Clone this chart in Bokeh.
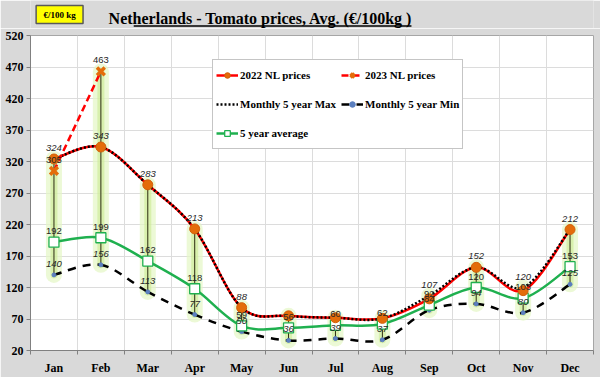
import numpy as np
from bokeh.plotting import figure
from bokeh.layouts import column
from bokeh.models import Range1d, FixedTicker, Legend, LegendItem
from bokeh.core.properties import value
from bokeh.embed import file_html
from bokeh.resources import INLINE

# ---------------- data ----------------
months = ["Jan", "Feb", "Mar", "Apr", "May", "Jun", "Jul", "Aug", "Sep", "Oct", "Nov", "Dec"]
prices_2022 = [324, 343, 283, 213, 88, 75, 72, 71, 102, 152, 115, 212]
prices_2023 = [305, 463]
max_5yr = [324, 343, 283, 213, 88, 75, 72, 71, 107, 152, 120, 212]
min_5yr = [140, 156, 113, 77, 50, 36, 39, 37, 84, 94, 80, 125]
avg_5yr = [192, 199, 162, 118, 59, 56, 60, 62, 92, 120, 103, 153]
max_label_shown = [True, True, True, True, True, False, False, False, True, True, True, True]
y_ticks = [20, 70, 120, 170, 220, 270, 320, 370, 420, 470, 520]
title_text = "Netherlands  -  Tomato  prices, Avg.    (€/100kg )"
unit_text = "€/100 kg"

x = list(range(len(months)))
x23 = x[:len(prices_2023)]

hi = []
for i in x:
    vals = [max_5yr[i], prices_2022[i], avg_5yr[i], min_5yr[i]]
    if i < len(prices_2023):
        vals.append(prices_2023[i])
    hi.append(max(vals))
lo = [min(min_5yr[i], avg_5yr[i], prices_2022[i]) for i in x]


def bez(xs, ys):
    n = len(xs)
    d = dict(x0=[], y0=[], x1=[], y1=[], cx0=[], cy0=[], cx1=[], cy1=[])
    for i in range(n - 1):
        xm, ym = (xs[i - 1], ys[i - 1]) if i > 0 else (xs[i], ys[i])
        xp, yp = (xs[i + 2], ys[i + 2]) if i + 2 < n else (xs[i + 1], ys[i + 1])
        d["x0"].append(xs[i]); d["y0"].append(ys[i])
        d["x1"].append(xs[i + 1]); d["y1"].append(ys[i + 1])
        d["cx0"].append(xs[i] + (xs[i + 1] - xm) / 6.0)
        d["cy0"].append(ys[i] + (ys[i + 1] - ym) / 6.0)
        d["cx1"].append(xs[i + 1] - (xp - xs[i]) / 6.0)
        d["cy1"].append(ys[i + 1] - (yp - ys[i]) / 6.0)
    return d


BG = "#d9d9d9"

# ---------------- header ----------------
hdr = figure(width=600, height=28, output_backend="svg", toolbar_location=None,
             x_range=Range1d(0, 600), y_range=Range1d(28, 0),
             x_axis_location=None, y_axis_location=None,
             min_border=0, min_border_left=0, min_border_right=0, min_border_top=0, min_border_bottom=0)
hdr.outline_line_color = None
hdr.background_fill_color = BG
hdr.border_fill_color = BG
hdr.xgrid.visible = False
hdr.ygrid.visible = False
hdr.text(x=[258], y=[18], text=[title_text], text_font=value("Liberation Serif"),
         text_font_style="bold", text_font_size="16px", text_color="black",
         text_align="center", text_baseline="middle")
hdr.segment(x0=[110], y0=[25.5], x1=[406], y1=[25.5], line_color="black", line_width=1.3)
hdr.quad(left=[6], right=[56], top=[5], bottom=[23], fill_color="#ffff00",
         line_color="#595959", line_width=1.5)
hdr.text(x=[31], y=[14], text=[unit_text], text_font=value("Liberation Serif"),
         text_font_style="bold", text_font_size="9px", text_color="black",
         text_align="center", text_baseline="middle")

# ---------------- main chart ----------------
p = figure(width=600, height=349, output_backend="svg", toolbar_location=None,
           x_range=Range1d(-0.5, len(months) - 0.5), y_range=Range1d(y_ticks[0], y_ticks[-1]),
           min_border_left=30, min_border_right=7, min_border_top=7, min_border_bottom=24)
p.border_fill_color = BG
p.background_fill_color = "white"
p.outline_line_color = "#a6a6a6"

xt = FixedTicker(ticks=x, minor_ticks=[i - 0.5 for i in range(len(months) + 1)])
yt = FixedTicker(ticks=y_ticks, minor_ticks=[])
p.xaxis.ticker = xt
p.xgrid.ticker = xt
p.yaxis.ticker = yt
p.ygrid.ticker = yt
p.xaxis.major_label_overrides = {i: m for i, m in enumerate(months)}
for ax in (p.xaxis, p.yaxis):
    ax.axis_line_color = "#808080"
    ax.major_tick_line_color = "#808080"
    ax.minor_tick_line_color = "#808080"
    ax.major_label_text_font = "Liberation Serif"
    ax.major_label_text_font_style = "bold"
    ax.major_label_text_font_size = "12px"
    ax.major_label_text_color = "black"
    ax.major_tick_in = 0
    ax.minor_tick_in = 0
p.xaxis.major_tick_out = 0
p.xaxis.minor_tick_out = 4
p.xaxis.major_label_standoff = 6
p.yaxis.major_tick_out = 4
p.yaxis.minor_tick_out = 0
p.yaxis.major_label_standoff = 3
p.xgrid.grid_line_color = None
p.xgrid.minor_grid_line_color = "#dcdcdc"
p.ygrid.grid_line_color = "#dcdcdc"

# high-low lines with glow
p.segment(x0=x, y0=lo, x1=x, y1=hi, line_color="#e4f6c4", line_width=16, line_alpha=0.7, line_cap="round")
p.segment(x0=x, y0=lo, x1=x, y1=hi, line_color="#c9ea8c", line_width=7, line_alpha=0.55, line_cap="round")
p.segment(x0=x, y0=lo, x1=x, y1=hi, line_color="#2b2b10", line_width=1)

bz = dict(x0="x0", y0="y0", x1="x1", y1="y1", cx0="cx0", cy0="cy0", cx1="cx1", cy1="cy1")
b_avg = p.bezier(source=bez(x, avg_5yr), line_color="#1fb04f", line_width=2.5, **bz)
b_min = p.bezier(source=bez(x, min_5yr), line_color="black", line_width=2.5, line_dash="8 7", **bz)
b_22 = p.bezier(source=bez(x, prices_2022), line_color="#ff0000", line_width=2.5, **bz)
b_max = p.bezier(source=bez(x, max_5yr), line_color="black", line_width=2.5, line_dash="2 2", **bz)
l_23 = p.line(x23, prices_2023, line_color="#ff0000", line_width=2.5, line_dash="7 4")

s_min = p.scatter(x, min_5yr, marker="circle", size=4, fill_color="#5b7fbf", line_color="#5b7fbf")
s_avg = p.scatter(x, avg_5yr, marker="square", size=10, fill_color="white", line_color="#1fb04f", line_width=1.3)
s_22 = p.scatter(x, prices_2022, marker="circle", size=10, fill_color="#e46c0a", line_color="#d2600a", line_width=1)
s_23 = p.scatter(x23, prices_2023, marker="x", size=11, line_color="#e46c0a", line_width=3.5)

lab_kw = dict(text_font=value("Liberation Sans"), text_font_size="9.5px", text_color="#262626",
              text_align="center", text_baseline="middle", y_offset=-11)
mx = [i for i in x if max_label_shown[i]]
p.text(x=mx, y=[max_5yr[i] for i in mx], text=[str(max_5yr[i]) for i in mx], text_font_style="italic", **lab_kw)
p.text(x=x, y=min_5yr, text=[str(v) for v in min_5yr], text_font_style="italic", **lab_kw)
p.text(x=x, y=avg_5yr, text=[str(v) for v in avg_5yr], **lab_kw)
p.text(x=x23, y=prices_2023, text=[str(v) for v in prices_2023], **lab_kw)

legend = Legend(items=[
    LegendItem(label="2022 NL prices", renderers=[b_22, s_22]),
    LegendItem(label="2023 NL prices", renderers=[l_23, s_23]),
    LegendItem(label="Monthly 5 year Max", renderers=[b_max]),
    LegendItem(label="Monthly 5 year Min", renderers=[b_min, s_min]),
    LegendItem(label="5 year average", renderers=[b_avg, s_avg]),
], location=(182, 201), orientation="horizontal", ncols=2)
legend.label_text_font = "Liberation Serif"
legend.label_text_font_style = "bold"
legend.label_text_font_size = "11px"
legend.label_text_color = "black"
legend.border_line_color = "#8c8c8c"
legend.border_line_width = 1
legend.background_fill_color = "white"
legend.background_fill_alpha = 1
legend.glyph_width = 22
legend.glyph_height = 14
legend.label_height = 24
legend.label_standoff = 2
legend.spacing = 5
legend.padding = 3
legend.margin = 0
p.add_layout(legend)

layout = column(hdr, p, spacing=0)
open("out.html", "w").write(file_html(layout, INLINE))
